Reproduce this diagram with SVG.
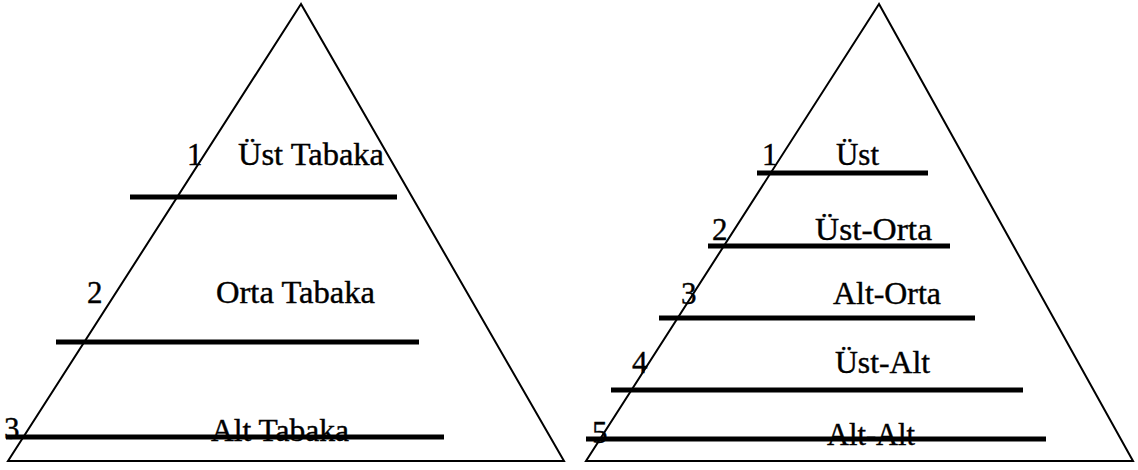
<svg xmlns="http://www.w3.org/2000/svg" width="1138" height="470" viewBox="0 0 1138 470">
<style>
.tri{fill:none;stroke:#000;stroke-width:2;stroke-linejoin:miter}
.bar{stroke:#000;stroke-width:5;stroke-linecap:butt}
text{font-family:"Liberation Serif","Times New Roman",serif;font-size:31px;fill:#000;stroke:#000;stroke-width:0.4}
</style>
<rect width="1138" height="470" fill="#fff"/>
<g id="left-pyramid">
<polygon class="tri" points="301,4 8,461 564,461"/>
<g id="left-layer-1">
<line class="bar" x1="130" y1="197" x2="397" y2="197"/>
<text x="187" y="165">1</text>
<text x="238" y="165" textLength="146" lengthAdjust="spacingAndGlyphs">Üst Tabaka</text>
</g>
<g id="left-layer-2">
<line class="bar" x1="56" y1="342" x2="419" y2="342"/>
<text x="87" y="303">2</text>
<text x="216" y="303" textLength="159" lengthAdjust="spacingAndGlyphs">Orta Tabaka</text>
</g>
<g id="left-layer-3">
<text x="4" y="439">3</text>
<text x="211" y="441" textLength="138" lengthAdjust="spacingAndGlyphs">Alt Tabaka</text>
<line class="bar" x1="6" y1="437" x2="444" y2="437"/>
</g>
</g>
<g id="right-pyramid">
<polygon class="tri" points="879,4 586,461 1133,461"/>
<g id="right-layer-1">
<line class="bar" x1="757" y1="173" x2="928" y2="173"/>
<text x="762" y="165">1</text>
<text x="836" y="165" textLength="43" lengthAdjust="spacingAndGlyphs">Üst</text>
</g>
<g id="right-layer-2">
<line class="bar" x1="708" y1="246" x2="950" y2="246"/>
<text x="712" y="240">2</text>
<text x="815" y="240" textLength="117" lengthAdjust="spacingAndGlyphs">Üst-Orta</text>
</g>
<g id="right-layer-3">
<line class="bar" x1="659" y1="318" x2="975" y2="318"/>
<text x="681" y="304">3</text>
<text x="833" y="304" textLength="108" lengthAdjust="spacingAndGlyphs">Alt-Orta</text>
</g>
<g id="right-layer-4">
<line class="bar" x1="611" y1="390" x2="1023" y2="390"/>
<text x="632" y="373">4</text>
<text x="835" y="373" textLength="95" lengthAdjust="spacingAndGlyphs">Üst-Alt</text>
</g>
<g id="right-layer-5">
<text x="592" y="443">5</text>
<text x="827" y="445" textLength="88" lengthAdjust="spacingAndGlyphs">Alt-Alt</text>
<line class="bar" x1="586" y1="439" x2="1046" y2="439"/>
</g>
</g>
</svg>
